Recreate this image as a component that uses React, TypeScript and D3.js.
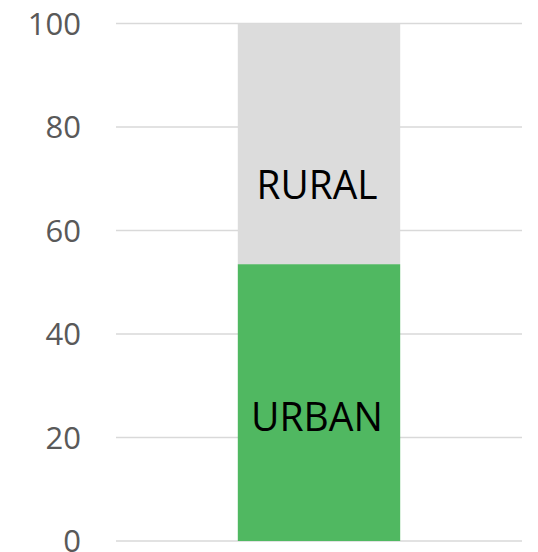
import * as d3 from "d3";
import React from "react";

// data
const categories = ["Total"];
const seriesNames = ["URBAN", "RURAL"];
const urbanValues = [53.5];
const ruralValues = [46.5];
const yTicks = [0, 20, 40, 60, 80, 100];

const colors = { URBAN: "#50B861", RURAL: "#DCDCDC" };

export default function App() {
  const width = 538;
  const height = 552;

  const y = d3.scaleLinear().domain([0, 100]).range([541, 23.5]);
  const x = d3
    .scaleBand()
    .domain(categories)
    .range([116, 522])
    .paddingInner(0.6)
    .paddingOuter(0.3);

  const rows = categories.map((c, i) => ({
    category: c,
    URBAN: urbanValues[i],
    RURAL: ruralValues[i],
  }));
  const stacked = d3.stack().keys(seriesNames)(rows as any);

  // where the label sits inside each segment (fraction of the segment, from bottom)
  const labelFrac = { URBAN: 0.45, RURAL: 0.33 };

  return (
    <svg
      width={width}
      height={height}
      style={{ position: "absolute", left: 0, top: 0 }}
    >
      <g>
        {yTicks.map((t) => (
          <line
            key={t}
            x1={116}
            x2={522}
            y1={y(t)}
            y2={y(t)}
            stroke="#D9D9D9"
            strokeWidth={1.3}
          />
        ))}
      </g>
      <g>
        {yTicks.map((t) => (
          <text
            key={t}
            x={81}
            y={y(t)}
            dy="0.36em"
            textAnchor="end"
            fontFamily="'Open Sans', sans-serif"
            fontSize={31}
            fill="#595959"
          >
            {t}
          </text>
        ))}
      </g>
      {stacked.map((s) => (
        <g key={s.key} fill={colors[s.key]}>
          {s.map((d, i) => (
            <rect
              key={i}
              x={x(categories[i])}
              width={x.bandwidth()}
              y={y(d[1])}
              height={y(d[0]) - y(d[1])}
            />
          ))}
        </g>
      ))}
      {stacked.map((s) =>
        s.map((d, i) => {
          const v = d[0] + (d[1] - d[0]) * labelFrac[s.key];
          return (
            <text
              key={s.key + i}
              x={x(categories[i])! + x.bandwidth() / 2 - 2}
              y={y(v)}
              dy="0.36em"
              textAnchor="middle"
              fontFamily="'Open Sans', sans-serif"
              fontSize={40}
              textLength={s.key === "RURAL" ? 121 : 132}
              lengthAdjust="spacingAndGlyphs"
              fill="#000000"
            >
              {s.key}
            </text>
          );
        })
      )}
    </svg>
  );
}
